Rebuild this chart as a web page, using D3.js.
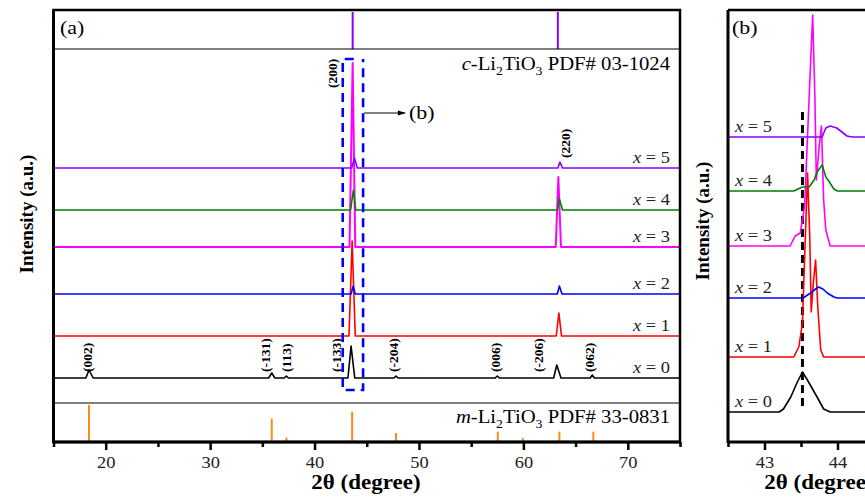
<!DOCTYPE html>
<html>
<head>
<meta charset="utf-8">
<script src="https://cdn.jsdelivr.net/npm/d3@7"></script>
<style>
  body { margin: 0; background: #fff; }
  svg { display: block; font-family: "Liberation Serif", "Times New Roman", serif; }
</style>
</head>
<body>
<div id="chart-area"></div>
<script>
// samples, bottom to top
const samples = [0, 1, 2, 3, 4, 5]
const colors = ["#000000", "#ff0000", "#0000ff", "#ff00ff", "#008000", "#8800ff"]

// (a) full scans, [2theta, intensity above own baseline] (a.u.)
const scanA0 = [[15,0],[18.1,0],[18.4,8],[18.8,0],[35.6,0],[35.9,5],[36.2,0],[37.1,0],[37.3,2],[37.5,0],
  [43.2,0],[43.5,32],[43.85,0],[47.6,0],[47.8,2],[48.0,0],[57.3,0],[57.5,2],[57.7,0],[62.9,0],[63.2,13],[63.6,0],
  [66.4,0],[66.6,3],[66.8,0],[75,0]]
const scanA1 = [[15,0],[43.3,0],[43.6,95],[43.9,0],[63.15,0],[63.4,23],[63.65,0],[75,0]]
const scanA2 = [[15,0],[43.5,0],[43.7,8],[43.9,0],[63.25,0],[63.45,8],[63.7,0],[75,0]]
const scanA3 = [[15,0],[43.35,0],[43.65,184],[43.9,0],[63.1,0],[63.35,70],[63.6,0],[75,0]]
const scanA4 = [[15,0],[43.45,0],[43.72,20],[43.95,0],[63.25,0],[63.45,11],[63.75,0],[75,0]]
const scanA5 = [[15,0],[43.55,0],[43.82,10],[44.1,0],[63.3,0],[63.5,6],[63.75,0],[75,0]]
const scansA = [scanA0, scanA1, scanA2, scanA3, scanA4, scanA5]
const offsetsA = [25, 67, 109, 156, 193, 235]

// (b) zoom on the (200) peak
const scanB0 = [[42.5,0],[43.2,0],[43.26,3],[43.36,15],[43.45,30],[43.52,40],[43.58,33],[43.65,24],[43.72,15],[43.81,3],[43.9,0],[45,0]]
const scanB1 = [[42.5,0],[43.4,0],[43.47,10],[43.52,34],[43.55,100],[43.59,184],[43.62,120],[43.64,45],[43.67,75],[43.70,97],[43.73,50],[43.77,7],[43.81,0],[45,0]]
const scanB2 = [[42.5,0],[43.53,0],[43.63,5],[43.7,9],[43.74,11],[43.8,9],[43.86,5],[43.95,1],[44.0,0],[45,0]]
const scanB3 = [[42.5,0],[43.35,0],[43.42,10],[43.49,13],[43.55,40],[43.61,146],[43.66,231],[43.69,150],[43.71,66],[43.75,100],[43.78,120],[43.81,46],[43.84,16],[43.9,0],[45,0]]
const scanB4 = [[42.5,0],[43.4,0],[43.52,4],[43.61,4],[43.68,11],[43.72,19],[43.79,26],[43.84,14],[43.88,10],[43.95,2],[44.0,0],[45,0]]
const scanB5 = [[42.5,0],[43.79,0],[43.84,9],[43.9,11],[43.99,9],[44.06,5],[44.13,1],[44.2,0],[45,0]]
const scansB = [scanB0, scanB1, scanB2, scanB3, scanB4, scanB5]
const offsetsB = [30, 85, 144, 196, 251, 305]

// reference patterns
const cubicPos = [43.65, 63.3]
const cubicInt = [100, 100]
const monoPos = [18.4, 35.9, 37.3, 43.6, 47.8, 57.55, 59.95, 63.45, 66.7]
const monoInt = [100, 63, 12, 82, 24, 28, 11, 28, 28]

// hkl labels of the x = 0 scan
const hklNames = ["(002)", "(-131)", "(113)", "(-133)", "(-204)", "(006)", "(-206)", "(062)"]
const hklPos = [18.2, 35.3, 37.3, 42.1, 47.5, 57.3, 61.4, 66.3]

const xTicksA = [20, 30, 40, 50, 60, 70]
const xMinorA = [15, 25, 35, 45, 55, 65, 75]
const xTicksB = [43, 44]
const xMinorB = [42.5, 43.5, 44.5]
const dashLineB = 43.52
const zoomBox = [42.7, 44.65]

const W = 865, H = 499
const SX = 1.15   // horizontal text in the figure is a little wide

const svg = d3.select("#chart-area").append("svg")
  .attr("width", W)
  .attr("height", H)

svg.append("rect").attr("width", W).attr("height", H).attr("fill", "#fff")

const yTop = 10, yBot = 442, topBand = 49, botBand = 403

let xA = d3.scaleLinear().domain([15, 75]).range([53.5, 680])
let yA = d3.scaleLinear().domain([0, 354]).range([botBand, topBand])
let yC = d3.scaleLinear().domain([0, 100]).range([topBand, 12])
let yM = d3.scaleLinear().domain([0, 100]).range([yBot, 405])

let xB = d3.scaleLinear().domain([42.5, 45]).range([728, 910.5])
let yB = d3.scaleLinear().domain([0, 432]).range([yBot, yTop])

// place a text; horizontal ones get the sideways stretch
let put = (sel, x, y, rot) => sel.attr("transform", `translate(${x},${y})` + (rot ? " rotate(-90)" : ` scale(${SX},1)`))

let defs = svg.append("defs")
defs.append("clipPath").attr("id", "clipA").append("rect")
  .attr("x", 53.5).attr("y", topBand).attr("width", 680 - 53.5).attr("height", botBand - topBand)
defs.append("clipPath").attr("id", "clipB").append("rect")
  .attr("x", 728).attr("y", yTop).attr("width", 200).attr("height", yBot - yTop)
defs.append("marker").attr("id", "arrow")
  .attr("viewBox", "0 0 10 10").attr("refX", 9).attr("refY", 5)
  .attr("markerWidth", 10).attr("markerHeight", 8).attr("orient", "auto")
  .attr("markerUnits", "userSpaceOnUse")
  .append("path").attr("d", "M0,2 L10,5 L0,8 Z").attr("fill", "#000")

// ---------- panel (a) ----------
let gA = svg.append("g")

// c-Li2TiO3 sticks
gA.selectAll(".cstick").data(cubicPos).enter().append("line")
  .attr("x1", d => xA(d)).attr("x2", d => xA(d))
  .attr("y1", yC(0)).attr("y2", (d, i) => yC(cubicInt[i]))
  .attr("stroke", "#8800ff").attr("stroke-width", 2)

// m-Li2TiO3 sticks
gA.selectAll(".mstick").data(monoPos).enter().append("line")
  .attr("x1", d => xA(d)).attr("x2", d => xA(d))
  .attr("y1", yM(0)).attr("y2", (d, i) => yM(monoInt[i]))
  .attr("stroke", "#ff8a1a").attr("stroke-width", 2)

let lineA = (i) => d3.line()
  .x(d => xA(d[0]))
  .y(d => yA(d[1] + offsetsA[i]))

gA.append("g").attr("clip-path", "url(#clipA)")
  .selectAll("path").data(scansA).enter().append("path")
  .attr("d", (d, i) => lineA(i)(d))
  .attr("fill", "none")
  .attr("stroke", (d, i) => colors[i])
  .attr("stroke-width", (d, i) => i == 3 ? 2 : 1.6)
  .attr("stroke-linejoin", "round")

// sample labels
gA.selectAll(".lab").data(samples).enter().append("text")
  .each(function(d, i) { put(d3.select(this), 670, yA(offsetsA[i] + 5.5)) })
  .attr("text-anchor", "end").attr("font-size", 16).attr("fill", "#222")
  .each(function(d) {
    let t = d3.select(this)
    t.append("tspan").attr("font-style", "italic").text("x")
    t.append("tspan").text(" = " + d)
  })

// hkl labels
gA.selectAll(".hkl").data(hklNames).enter().append("text")
  .each(function(d, i) { put(d3.select(this), xA(hklPos[i]), yA(offsetsA[0] + 6), true) })
  .attr("dy", "0.35em").attr("font-size", 13.5).attr("font-weight", "bold")
  .text(d => d)

put(gA.append("text"), xA(41.65), yA(315), true)
  .attr("dy", "0.35em").attr("font-size", 13.5).attr("font-weight", "bold")
  .text("(200)")
put(gA.append("text"), xA(64.0), yA(offsetsA[5] + 10), true)
  .attr("dy", "0.35em").attr("font-size", 13.5).attr("font-weight", "bold")
  .text("(220)")

// dashed zoom box and arrow
let bx0 = xA(zoomBox[0]), bx1 = xA(zoomBox[1])
gA.append("path")
  .attr("d", `M${bx0 + 11},59 H${bx0} V390 H${bx1} V59`)
  .attr("fill", "none").attr("stroke", "#0000ff").attr("stroke-width", 2.6)
  .attr("stroke-dasharray", "9,6")
gA.append("line")
  .attr("x1", bx1 + 1).attr("x2", bx1 + 42).attr("y1", 113).attr("y2", 113)
  .attr("stroke", "#000").attr("stroke-width", 1)
  .attr("marker-end", "url(#arrow)")
put(gA.append("text"), bx1 + 46, 119).attr("font-size", 19).text("(b)")

// pattern names
let cText = put(gA.append("text"), 670, 70).attr("text-anchor", "end").attr("font-size", 18)
cText.append("tspan").attr("font-style", "italic").text("c")
cText.append("tspan").text("-Li")
cText.append("tspan").attr("dy", 5).attr("font-size", 12).text("2")
cText.append("tspan").attr("dy", -5).text("TiO")
cText.append("tspan").attr("dy", 5).attr("font-size", 12).text("3")
cText.append("tspan").attr("dy", -5).text(" PDF# 03-1024")

let mText = put(gA.append("text"), 670, 423).attr("text-anchor", "end").attr("font-size", 18)
mText.append("tspan").attr("font-style", "italic").text("m")
mText.append("tspan").text("-Li")
mText.append("tspan").attr("dy", 5).attr("font-size", 12).text("2")
mText.append("tspan").attr("dy", -5).text("TiO")
mText.append("tspan").attr("dy", 5).attr("font-size", 12).text("3")
mText.append("tspan").attr("dy", -5).text(" PDF# 33-0831")

put(gA.append("text"), 60, 34).attr("font-size", 19).text("(a)")

// frame
gA.append("line").attr("x1", 53.5).attr("x2", 680).attr("y1", topBand).attr("y2", topBand).attr("stroke", "#000").attr("stroke-width", 1.2)
gA.append("line").attr("x1", 53.5).attr("x2", 680).attr("y1", botBand).attr("y2", botBand).attr("stroke", "#000").attr("stroke-width", 1.2)
gA.append("rect").attr("x", 53.5).attr("y", yTop).attr("width", 680 - 53.5).attr("height", yBot - yTop)
  .attr("fill", "none").attr("stroke", "#000").attr("stroke-width", 2.5)
gA.append("line").attr("x1", 53.5).attr("x2", 53.5).attr("y1", yTop).attr("y2", yBot + 1).attr("stroke", "#000").attr("stroke-width", 3)
gA.append("line").attr("x1", 53.5).attr("x2", 680).attr("y1", yBot).attr("y2", yBot).attr("stroke", "#000").attr("stroke-width", 3)

let axA = gA.append("g").attr("transform", `translate(0,${yBot})`)
  .call(d3.axisBottom(xA).tickValues(xTicksA).tickSize(8).tickPadding(7).tickSizeOuter(0).tickFormat(d3.format("d")))
let axAm = gA.append("g").attr("transform", `translate(0,${yBot})`)
  .call(d3.axisBottom(xA).tickValues(xMinorA).tickSize(5).tickFormat("").tickSizeOuter(0))

put(gA.append("text"), 366, 489).attr("text-anchor", "middle")
  .attr("font-size", 20).attr("font-weight", "bold").text("2θ (degree)")
put(gA.append("text"), 33, 214, true)
  .attr("text-anchor", "middle").attr("font-size", 19).attr("font-weight", "bold").text("Intensity (a.u.)")

// ---------- panel (b) ----------
let gB = svg.append("g")

let lineB = (i) => d3.line()
  .x(d => xB(d[0]))
  .y(d => yB(d[1] + offsetsB[i]))

let seriesB = gB.append("g").attr("clip-path", "url(#clipB)")
seriesB.append("line")
  .attr("x1", xB(dashLineB)).attr("x2", xB(dashLineB)).attr("y1", 112).attr("y2", 407)
  .attr("stroke", "#000").attr("stroke-width", 3).attr("stroke-dasharray", "8,5")
seriesB.selectAll("path").data(scansB).enter().append("path")
  .attr("d", (d, i) => lineB(i)(d))
  .attr("fill", "none")
  .attr("stroke", (d, i) => colors[i])
  .attr("stroke-width", 1.6)
  .attr("stroke-linejoin", "round")

gB.selectAll(".lab").data(samples).enter().append("text")
  .each(function(d, i) { put(d3.select(this), 735, yB(offsetsB[i] + 5)) })
  .attr("font-size", 16).attr("fill", "#222")
  .each(function(d) {
    let t = d3.select(this)
    t.append("tspan").attr("font-style", "italic").text("x")
    t.append("tspan").text(" = " + d)
  })

put(gB.append("text"), 732, 34).attr("font-size", 19).text("(b)")

gB.append("line").attr("x1", 728).attr("x2", 910).attr("y1", yTop).attr("y2", yTop).attr("stroke", "#000").attr("stroke-width", 2.5)
gB.append("line").attr("x1", 728).attr("x2", 728).attr("y1", yTop).attr("y2", yBot + 1).attr("stroke", "#000").attr("stroke-width", 3)
gB.append("line").attr("x1", 728).attr("x2", 910).attr("y1", yBot).attr("y2", yBot).attr("stroke", "#000").attr("stroke-width", 3)

let axB = gB.append("g").attr("transform", `translate(0,${yBot})`)
  .call(d3.axisBottom(xB).tickValues(xTicksB).tickSize(8).tickPadding(7).tickSizeOuter(0).tickFormat(d3.format("d")))
let axBm = gB.append("g").attr("transform", `translate(0,${yBot})`)
  .call(d3.axisBottom(xB).tickValues(xMinorB).tickSize(5).tickFormat("").tickSizeOuter(0))

put(gB.append("text"), 819, 489).attr("text-anchor", "middle")
  .attr("font-size", 20).attr("font-weight", "bold").text("2θ (degree)")
put(gB.append("text"), 709, 221, true)
  .attr("text-anchor", "middle").attr("font-size", 19).attr("font-weight", "bold").text("Intensity (a.u.)")

// axis styling
svg.selectAll(".tick line").attr("stroke", "#000").attr("stroke-width", 2.5)
svg.selectAll(".domain").remove()
;[axA, axAm, axB, axBm].forEach(ax => ax.attr("font-family", null).attr("font-size", null))
svg.selectAll(".tick text").attr("font-size", 16).attr("fill", "#222").attr("transform", `scale(${SX},1)`)
</script>
</body>
</html>
